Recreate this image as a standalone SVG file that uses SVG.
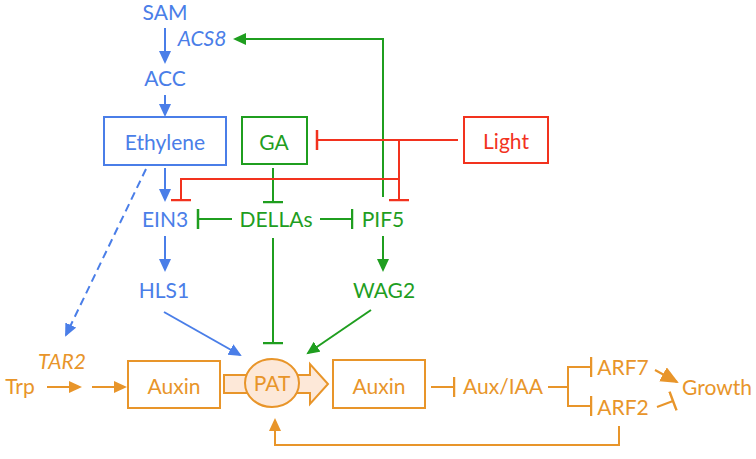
<svg xmlns="http://www.w3.org/2000/svg" width="756" height="459" viewBox="0 0 756 459">
<style>
text{font-family:Lato,"Open Sans","Liberation Sans",sans-serif;font-size:21px;text-anchor:middle}
.b{fill:#4a7ee8}.g{fill:#1f9e1f}.r{fill:#f2321e}.o{fill:#e8952a}
.it{font-style:italic}
.box{fill:#fff;stroke-width:2}
.lb{stroke:#4a7ee8;stroke-width:2;fill:none}
.lg{stroke:#1f9e1f;stroke-width:2;fill:none}
.lr{stroke:#f2321e;stroke-width:2;fill:none}
.lo{stroke:#e8952a;stroke-width:2;fill:none}
</style>
<defs>
<marker id="ab" markerUnits="userSpaceOnUse" markerWidth="14" markerHeight="14" refX="11" refY="6" orient="auto"><path d="M0,0 L13,6 L0,12z" fill="#4a7ee8"/></marker>
<marker id="ag" markerUnits="userSpaceOnUse" markerWidth="14" markerHeight="14" refX="11" refY="6" orient="auto"><path d="M0,0 L13,6 L0,12z" fill="#1f9e1f"/></marker>
<marker id="ao" markerUnits="userSpaceOnUse" markerWidth="14" markerHeight="14" refX="11" refY="6" orient="auto"><path d="M0,0 L13,6 L0,12z" fill="#e8952a"/></marker>
<marker id="aoL" markerUnits="userSpaceOnUse" markerWidth="20" markerHeight="18" refX="16" refY="8" orient="auto"><path d="M0,0 L18,8 L0,16z" fill="#e8952a"/></marker>
<marker id="tg" markerUnits="userSpaceOnUse" markerWidth="4" markerHeight="22" refX="1.5" refY="11" orient="auto"><path d="M1.5,1 V21" stroke="#1f9e1f" stroke-width="2.5"/></marker>
<marker id="tr" markerUnits="userSpaceOnUse" markerWidth="4" markerHeight="22" refX="1.5" refY="11" orient="auto"><path d="M1.5,1 V21" stroke="#f2321e" stroke-width="2.5"/></marker>
<marker id="to" markerUnits="userSpaceOnUse" markerWidth="4" markerHeight="22" refX="1.5" refY="11" orient="auto"><path d="M1.5,1 V21" stroke="#e8952a" stroke-width="2.5"/></marker>
</defs>

<g id="connectors">
<line class="lb" x1="165" y1="28" x2="165" y2="62" marker-end="url(#ab)"/>
<line class="lb" x1="165" y1="95" x2="165" y2="115" marker-end="url(#ab)"/>
<line class="lb" x1="165" y1="168" x2="165" y2="200" marker-end="url(#ab)"/>
<line class="lb" x1="146" y1="169" x2="66" y2="335" stroke-dasharray="8,5" marker-end="url(#ab)"/>
<line class="lb" x1="165" y1="236" x2="165" y2="270" marker-end="url(#ab)"/>
<line class="lb" x1="164" y1="312" x2="240" y2="355" marker-end="url(#ab)"/>
<path class="lg" d="M383,197 V39 H235" marker-end="url(#ag)"/>
<line class="lg" x1="273" y1="168" x2="273" y2="202" marker-end="url(#tg)"/>
<line class="lg" x1="232" y1="219" x2="198" y2="219" marker-end="url(#tg)"/>
<line class="lg" x1="320" y1="219" x2="352" y2="219" marker-end="url(#tg)"/>
<line class="lg" x1="273" y1="238" x2="273" y2="343" marker-end="url(#tg)"/>
<line class="lg" x1="383" y1="236" x2="383" y2="270" marker-end="url(#ag)"/>
<line class="lg" x1="371" y1="310" x2="308" y2="353" marker-end="url(#ag)"/>
<line class="lr" x1="458" y1="140" x2="317" y2="140" marker-end="url(#tr)"/>
<line class="lr" x1="399" y1="140" x2="399" y2="200" marker-end="url(#tr)"/>
<path class="lr" d="M399,179 H181 V200" marker-end="url(#tr)"/>
<line class="lo" x1="47" y1="387" x2="80" y2="387" marker-end="url(#ao)"/>
<line class="lo" x1="92" y1="387" x2="125" y2="387" marker-end="url(#ao)"/>
<line class="lo" x1="431" y1="387" x2="454" y2="387" marker-end="url(#to)"/>
<path class="lo" d="M548,387 H568 M591,367 H568 V406 H591" />
<line class="lo" x1="568" y1="367" x2="591" y2="367" marker-end="url(#to)"/>
<line class="lo" x1="568" y1="406" x2="591" y2="406" marker-end="url(#to)"/>
<line class="lo" x1="655" y1="370" x2="677" y2="382" marker-end="url(#aoL)"/>
<line class="lo" x1="657" y1="407" x2="673" y2="401" marker-end="url(#to)"/>
<path class="lo" d="M619,426 V445 H275 V420" marker-end="url(#ao)"/>
</g>

<g id="SAM"><text class="b" x="165" y="20">SAM</text></g>
<g id="ACS8"><text class="b it" x="202" y="46">ACS8</text></g>
<g id="ACC"><text class="b" x="165" y="86">ACC</text></g>
<g id="Ethylene"><rect class="box" x="104" y="117" width="122" height="48" stroke="#4a7ee8"/><text class="b" x="165" y="150">Ethylene</text></g>
<g id="GA"><rect class="box" x="242" y="117" width="65" height="47" stroke="#1f9e1f"/><text class="g" x="274" y="150">GA</text></g>
<g id="Light"><rect class="box" x="464" y="117" width="84" height="46" stroke="#f2321e"/><text class="r" x="506" y="149">Light</text></g>
<g id="EIN3"><text class="b" x="165" y="227">EIN3</text></g>
<g id="DELLAs"><text class="g" x="276" y="227">DELLAs</text></g>
<g id="PIF5"><text class="g" x="383" y="227">PIF5</text></g>
<g id="HLS1"><text class="b" x="164" y="298">HLS1</text></g>
<g id="WAG2"><text class="g" x="384" y="298">WAG2</text></g>
<g id="Trp"><text class="o" x="20" y="394">Trp</text></g>
<g id="TAR2"><text class="o it" x="62" y="369">TAR2</text></g>
<g id="Auxin1"><rect class="box" x="128" y="361" width="92" height="47" stroke="#e8952a"/><text class="o" x="174" y="394">Auxin</text></g>
<g id="PAT"><polygon points="224,375 310,375 310,364 328,384 310,404 310,393 224,393" fill="#fde8d8" stroke="#e8952a" stroke-width="2" stroke-linejoin="miter"/><ellipse cx="272" cy="383" rx="27" ry="24" fill="#fde8d8" stroke="#e8952a" stroke-width="2"/><text class="o" x="272" y="391">PAT</text></g>
<g id="Auxin2"><rect class="box" x="333" y="360" width="92" height="48" stroke="#e8952a"/><text class="o" x="379" y="394">Auxin</text></g>
<g id="AuxIAA"><text class="o" x="503" y="394">Aux/IAA</text></g>
<g id="ARF7"><text class="o" x="623" y="375">ARF7</text></g>
<g id="ARF2"><text class="o" x="623" y="415">ARF2</text></g>
<g id="Growth"><text class="o" x="717" y="395">Growth</text></g>
</svg>
